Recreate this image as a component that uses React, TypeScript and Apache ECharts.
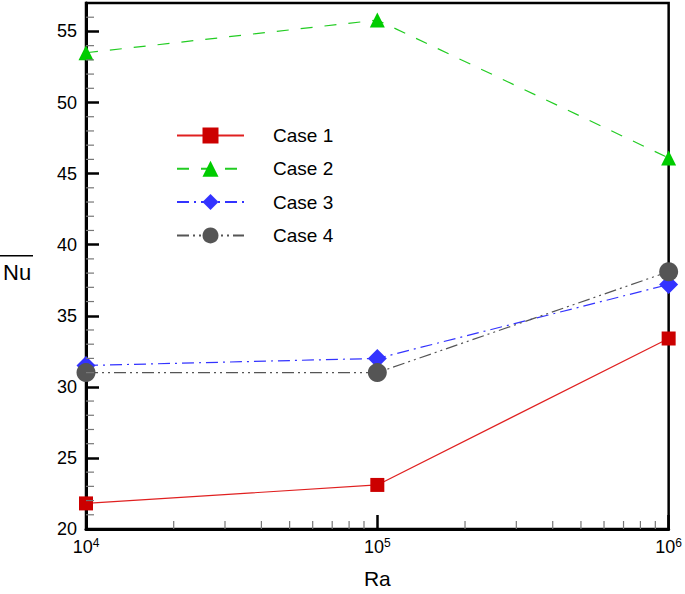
import React, { useEffect, useRef } from "react";
import * as echarts from "echarts";

const raValues = [1e4, 1e5, 1e6];
const case1 = [21.8, 23.1, 33.4];
const case2 = [53.5, 55.8, 46.1];
const case3 = [31.5, 32.0, 37.2];
const case4 = [31.0, 31.0, 38.1];
const seriesNames = ["Case 1", "Case 2", "Case 3", "Case 4"];
const xMinorTicks = [2e4, 3e4, 4e4, 5e4, 6e4, 7e4, 8e4, 9e4, 2e5, 3e5, 4e5, 5e5, 6e5, 7e5, 8e5, 9e5];
const yMinorTicks = [21, 22, 23, 24, 26, 27, 28, 29, 31, 32, 33, 34, 36, 37, 38, 39, 41, 42, 43, 44, 46, 47, 48, 49, 51, 52, 53, 54, 56];

const FONT = "Liberation Sans";

export default function App() {
  const ref = useRef<HTMLDivElement>(null);
  useEffect(() => {
    const chart = echarts.init(ref.current!, null, { renderer: "svg" });
    const pair = (ys: number[]) => raValues.map((x, i) => [x, ys[i]]);
    const tickSeries = (data: number[][], vertical: boolean) => ({
      type: "custom",
      silent: true,
      z: 5,
      data,
      renderItem: (params: any, api: any) => {
        const p = api.coord([api.value(0), api.value(1)]);
        const len = 8;
        return {
          type: "line",
          shape: vertical
            ? { x1: p[0], y1: p[1], x2: p[0], y2: p[1] - len }
            : { x1: p[0], y1: p[1], x2: p[0] + len, y2: p[1] },
          style: { stroke: "#777", lineWidth: 1.2 },
        };
      },
    });
    chart.setOption({
      animation: false,
      backgroundColor: "#fff",
      grid: {
        left: 86,
        right: 15,
        top: 3,
        bottom: 59,
        show: true,
        borderColor: "#000",
        borderWidth: 2.5,
        backgroundColor: "transparent",
      },
      xAxis: {
        type: "log",
        logBase: 10,
        min: 1e4,
        max: 1e6,
        name: "Ra",
        nameLocation: "middle",
        nameGap: 39,
        nameTextStyle: { fontFamily: FONT, fontSize: 21, color: "#000" },
        axisLine: { show: true, lineStyle: { color: "#000", width: 3 } },
        axisTick: { show: true, inside: true, length: 14, lineStyle: { color: "#000", width: 2.5 } },
        minorTick: { show: false },
        splitLine: { show: false },
        axisLabel: {
          showMinLabel: true,
          showMaxLabel: true,
          margin: 8,
          formatter: (v: number) => `{b|10}{s|${Math.round(Math.log10(v))}}`,
          rich: {
            b: { fontFamily: FONT, fontSize: 18, color: "#000" },
            s: { fontFamily: FONT, fontSize: 12, color: "#000", verticalAlign: "top", padding: [0, 0, 8, 0] },
          },
        },
      },
      yAxis: {
        type: "value",
        min: 20,
        max: 57,
        interval: 5,
        axisLine: { show: true, lineStyle: { color: "#000", width: 3 } },
        axisTick: { show: true, inside: true, length: 13, lineStyle: { color: "#000", width: 2.5 } },
        splitLine: { show: false },
        axisLabel: {
          showMaxLabel: false,
          margin: 9,
          fontFamily: FONT,
          fontSize: 18,
          color: "#000",
        },
      },
      legend: {
        orient: "vertical",
        left: 176,
        top: 126,
        padding: 0,
        itemWidth: 67,
        itemHeight: 20,
        itemGap: 14.3,
        data: seriesNames,
        textStyle: { fontFamily: FONT, fontSize: 19, color: "#000", padding: [0, 0, 0, 24] },
      },
      graphic: [
        {
          type: "rect",
          shape: { x: 0, y: 255, width: 33, height: 1.5 },
          style: { fill: "#000" },
        },
        {
          type: "text",
          x: 3,
          y: 261,
          style: { text: "Nu", font: `22px "${FONT}"`, fill: "#000" },
        },
      ],
      series: [
        {
          name: "Case 1",
          type: "line",
          data: pair(case1),
          symbol: "rect",
          symbolSize: 14,
          itemStyle: { color: "#cc0000" },
          lineStyle: { color: "#e02020", width: 1.2, type: "solid" },
          z: 3,
        },
        {
          name: "Case 2",
          type: "line",
          data: pair(case2),
          symbol: "triangle",
          symbolSize: 15,
          itemStyle: { color: "#00cc00" },
          lineStyle: { color: "#22cc22", width: 1.2, type: [12, 12] },
          z: 3,
        },
        {
          name: "Case 3",
          type: "line",
          data: pair(case3),
          symbol: "diamond",
          symbolSize: 19,
          itemStyle: { color: "#3333ff" },
          lineStyle: { color: "#3333ff", width: 1.2, type: [12, 5, 2, 5] },
          z: 3,
        },
        {
          name: "Case 4",
          type: "line",
          data: pair(case4),
          symbol: "circle",
          symbolSize: 19,
          itemStyle: { color: "#555555" },
          lineStyle: { color: "#555555", width: 1.2, type: [12, 4, 2, 4, 2, 4] },
          z: 3,
        },
        tickSeries(xMinorTicks.map((v) => [v, 20]), true),
        tickSeries(yMinorTicks.map((v) => [1e4, v]), false),
      ],
    });
    return () => chart.dispose();
  }, []);
  return <div ref={ref} style={{ position: "absolute", left: 0, top: 0, width: 685, height: 594 }} />;
}
